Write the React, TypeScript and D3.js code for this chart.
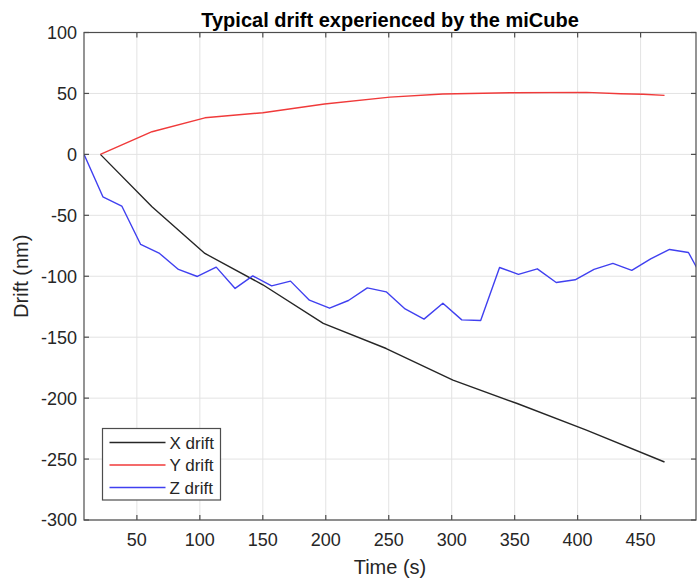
import React from 'react';
import * as d3 from 'd3';

// X drift samples (s, nm)
const xTimes = [21, 62, 104, 150, 198, 248, 301, 352, 407, 469];
const xDrift = [0, -43, -81.3, -107, -138.7, -159.3, -185.3, -204.4, -226.3, -252.4];

// Y drift samples
const yTimes = [21, 62, 104, 150, 199, 251, 293, 349, 407, 434, 452, 469];
const yDrift = [0, 18.6, 30, 34.2, 41.3, 47, 49.5, 50.6, 50.9, 49.8, 49.3, 48.4];

// Z drift samples
const zTimes = [8, 23, 38, 53, 68, 83, 98, 113, 128, 142, 157, 172, 187, 203, 218, 233, 248,
  263, 278, 293, 308, 323, 338, 353, 368, 383, 398, 413, 428, 443, 458, 473, 488, 503];
const zDrift = [0, -34.8, -42.4, -73.9, -81.3, -94.4, -100.2, -92.5, -110, -99.7, -107.9, -104,
  -119.6, -126.2, -119.9, -109.5, -112.8, -126.8, -135.2, -122.1, -135.8, -136.3, -92.8, -98.5,
  -93.9, -105.1, -102.9, -94.4, -89.5, -95.2, -85.7, -78, -80.5, -109];

const xTicks = [50, 100, 150, 200, 250, 300, 350, 400, 450];
const yTicks = [-300, -250, -200, -150, -100, -50, 0, 50, 100];

const seriesNames = ['X drift', 'Y drift', 'Z drift'];
const seriesColors = ['#262626', '#f03a3a', '#4040f0'];

const W = 697;
const H = 581;
const margin = { top: 32.5, right: 1, bottom: 61, left: 84 };
const font = '"Liberation Sans", Arial, sans-serif';
const axisColor = '#4d4d4d';
const textColor = '#262626';

export default function App() {
  const x = d3.scaleLinear().domain([8, 494]).range([margin.left, W - margin.right]);
  const y = d3.scaleLinear().domain([-300, 100]).range([H - margin.bottom, margin.top]);
  const [x0, x1] = x.range();
  const [y0, y1] = y.range();

  const series = [
    { t: xTimes, v: xDrift },
    { t: yTimes, v: yDrift },
    { t: zTimes, v: zDrift },
  ];
  const line = d3.line<[number, number]>().x(d => x(d[0])).y(d => y(d[1]));

  return (
    <div style={{ position: 'absolute', left: 0, top: 0 }}>
      <svg width={W} height={H} style={{ display: 'block', background: '#fff' }} fontFamily={font}>
        <defs>
          <clipPath id="plot-clip">
            <rect x={x0} y={y1} width={x1 - x0} height={y0 - y1} />
          </clipPath>
        </defs>

        {/* grid */}
        {xTicks.map(t => (
          <line key={'gx' + t} x1={x(t)} x2={x(t)} y1={y1} y2={y0} stroke="#e3e3e3" strokeWidth={1} />
        ))}
        {yTicks.map(t => (
          <line key={'gy' + t} x1={x0} x2={x1} y1={y(t)} y2={y(t)} stroke="#e3e3e3" strokeWidth={1} />
        ))}

        {/* lines */}
        <g clipPath="url(#plot-clip)">
          {series.map((s, i) => (
            <path
              key={seriesNames[i]}
              d={line(s.t.map((t, j) => [t, s.v[j]] as [number, number])) || ''}
              fill="none"
              stroke={seriesColors[i]}
              strokeWidth={1.4}
              strokeLinejoin="round"
            />
          ))}
        </g>

        {/* axes box and ticks */}
        <rect x={x0} y={y1} width={x1 - x0} height={y0 - y1} fill="none" stroke={axisColor} strokeWidth={1.2} />
        {xTicks.map(t => (
          <g key={'tx' + t}>
            <line x1={x(t)} x2={x(t)} y1={y0} y2={y0 - 5} stroke={axisColor} strokeWidth={1.2} />
            <line x1={x(t)} x2={x(t)} y1={y1} y2={y1 + 5} stroke={axisColor} strokeWidth={1.2} />
            <text x={x(t)} y={y0 + 26} textAnchor="middle" fontSize={18} fill={textColor}>{t}</text>
          </g>
        ))}
        {yTicks.map(t => (
          <g key={'ty' + t}>
            <line x1={x0} x2={x0 + 5} y1={y(t)} y2={y(t)} stroke={axisColor} strokeWidth={1.2} />
            <line x1={x1} x2={x1 - 5} y1={y(t)} y2={y(t)} stroke={axisColor} strokeWidth={1.2} />
            <text x={x0 - 7} y={y(t)} dy="0.36em" textAnchor="end" fontSize={18} fill={textColor}>{t}</text>
          </g>
        ))}

        {/* labels */}
        <text x={(x0 + x1) / 2} y={y1 - 6} textAnchor="middle" fontSize={20} fontWeight="bold" fill="#000">
          Typical drift experienced by the miCube
        </text>
        <text x={(x0 + x1) / 2} y={H - 7} textAnchor="middle" fontSize={20} fill={textColor}>Time (s)</text>
        <text
          transform={`translate(28,${(y0 + y1) / 2}) rotate(-90)`}
          textAnchor="middle"
          fontSize={20}
          fill={textColor}
        >
          Drift (nm)
        </text>

        {/* legend */}
        <g transform="translate(102.5,428.5)">
          <rect width={118} height={71.5} fill="#fff" stroke={axisColor} strokeWidth={1.2} />
          {seriesNames.map((name, i) => (
            <g key={name} transform={`translate(0,${14 + i * 22.5})`}>
              <line x1={7} x2={63} y1={0} y2={0} stroke={seriesColors[i]} strokeWidth={1.4} />
              <text x={67} y={0} dy="0.36em" fontSize={17} fill={textColor}>{name}</text>
            </g>
          ))}
        </g>
      </svg>
    </div>
  );
}
